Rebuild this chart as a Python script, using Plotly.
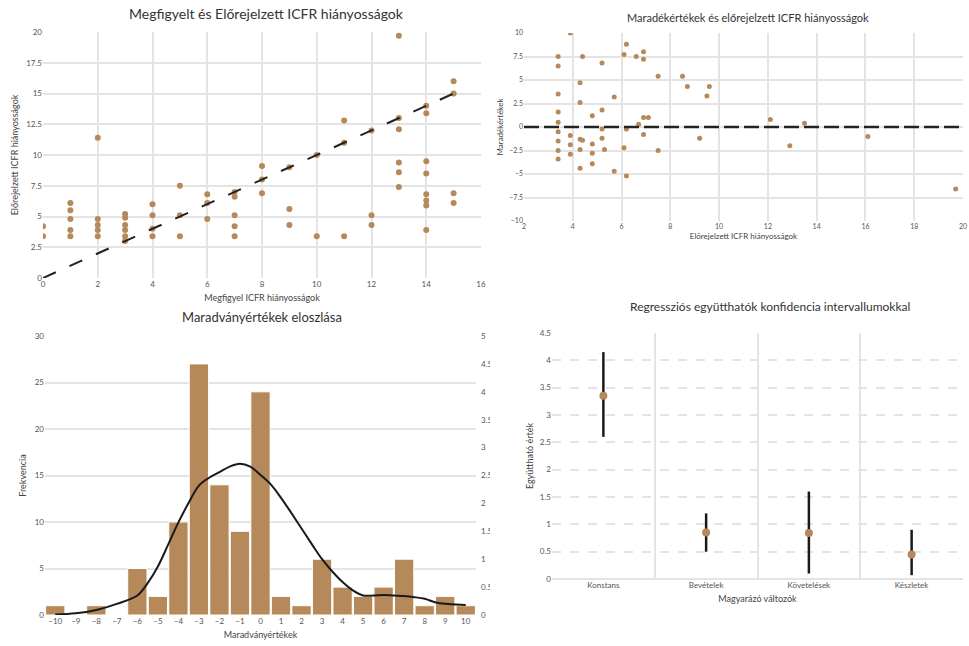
import plotly.graph_objects as go

# ---------------- data ----------------
# Panel 1: observed vs predicted
observed = [0, 0,
            1, 1, 1, 1, 1,
            2, 2, 2, 2, 2,
            3, 3, 3, 3, 3, 3,
            4, 4, 4, 4,
            5, 5, 5,
            6, 6, 6,
            7, 7, 7, 7, 7,
            8, 8, 8,
            9, 9, 9,
            10, 10,
            11, 11, 11,
            12, 12, 12,
            13, 13, 13, 13, 13, 13,
            14, 14, 14, 14, 14, 14, 14, 14,
            15, 15, 15, 15]
predicted = [4.2, 3.4,
             6.1, 5.5, 4.8, 3.9, 3.4,
             11.4, 4.8, 4.3, 3.9, 3.4,
             5.2, 4.9, 4.3, 3.9, 3.4, 3.0,
             6.0, 5.1, 4.0, 3.4,
             7.5, 5.1, 3.4,
             6.8, 6.1, 4.8,
             7.0, 6.6, 5.1, 4.2, 3.4,
             9.1, 8.0, 6.9,
             9.0, 5.6, 4.3,
             10.0, 3.4,
             12.8, 11.0, 3.4,
             12.0, 5.1, 4.3,
             19.7, 13.0, 12.1, 9.4, 8.6, 7.4,
             14.0, 13.4, 9.5, 8.5, 6.8, 6.3, 5.9, 3.9,
             16.0, 15.0, 6.9, 6.1]
ideal_x = [0, 15]
ideal_y = [0, 15]

# Panel 2: residuals vs predicted
res_pred = [3.9, 3.4, 3.4, 3.4, 3.4, 3.4, 3.4, 3.4, 3.4, 3.4,
            3.9, 3.9, 3.9,
            4.3, 4.3, 4.3, 4.4, 4.3, 4.3, 4.4,
            4.8, 4.8, 4.8, 4.8,
            5.2, 5.2, 5.2, 5.2, 5.3,
            5.7, 5.7,
            6.1, 6.1, 6.2, 6.2, 6.2,
            6.6, 6.7, 6.9, 6.9, 6.9, 7.1, 6.9,
            7.5, 7.5, 8.5, 8.7, 9.6, 9.5, 9.2,
            12.1, 12.9, 13.5, 16.1, 19.7]
residuals = [10.0, 7.5, 6.5, 3.5, 1.6, 0.5, -0.5, -1.5, -2.5, -3.4,
             -0.9, -1.9, -2.9,
             4.7, 2.6, -1.3, -1.4, -2.4, -4.4, 7.5,
             1.2, -1.8, -2.8, -3.9,
             6.8, 1.8, -0.2, -1.2, -2.4,
             3.2, -4.7,
             7.7, -2.2, 8.8, -0.2, -5.2,
             7.5, 0.3, 8.0, 7.2, 1.0, 1.0, -0.8,
             5.4, -2.5, 5.4, 4.3, 4.3, 3.3, -1.2,
             0.8, -2.0, 0.4, -1.0, -6.6]
zero_x = [2, 20]
zero_y = [0, 0]

# Panel 3: residual histogram + density
bins = list(range(-10, 11))
counts = [1, 0, 1, 0, 5, 2, 10, 27, 14, 9, 24, 2, 1, 6, 3, 2, 3, 6, 1, 2, 1]
kde_x = [-10, -9, -8, -7, -6, -5.5, -5, -4.5, -4, -3.5, -3, -2.5, -2, -1.5, -1,
         -0.5, 0, 0.5, 1, 1.5, 2, 2.5, 3, 3.5, 4, 4.5, 5, 5.5, 6, 6.5, 7,
         7.5, 8, 8.5, 9, 9.5, 10]
kde_y = [0.01, 0.03, 0.09, 0.20, 0.35, 0.57, 0.87, 1.26, 1.66, 2.01, 2.32, 2.46,
         2.56, 2.66, 2.71, 2.66, 2.51, 2.34, 2.10, 1.83, 1.55, 1.27, 1.00, 0.78,
         0.59, 0.44, 0.35, 0.35, 0.36, 0.35, 0.34, 0.32, 0.29, 0.23, 0.20, 0.19,
         0.18]

# Panel 4: regression coefficients
variables = ["Konstans", "Bevételek", "Követelések", "Készletek"]
coef = [3.35, 0.85, 0.84, 0.45]
ci_low = [2.6, 0.5, 0.1, 0.07]
ci_high = [4.15, 1.2, 1.6, 0.9]

# ---------------- style ----------------
W, H = 969, 646
BROWN = "#b5895a"
GRID = "#e4e4e4"
TICKC = "#555555"
FONT = "Lato"


def px_x(p):
    return p / W


def px_y(p):
    return 1 - p / H


fig = go.Figure()

fig.add_trace(go.Scatter(x=observed, y=predicted, mode="markers",
                         marker=dict(color=BROWN, size=6),
                         xaxis="x", yaxis="y", showlegend=False))
fig.add_trace(go.Scatter(x=ideal_x, y=ideal_y, mode="lines",
                         line=dict(color="#222222", width=2, dash="14px,15px"),
                         xaxis="x", yaxis="y", showlegend=False))

fig.add_trace(go.Scatter(x=res_pred, y=residuals, mode="markers",
                         marker=dict(color=BROWN, size=5),
                         xaxis="x2", yaxis="y2", showlegend=False))
fig.add_trace(go.Scatter(x=zero_x, y=zero_y, mode="lines",
                         line=dict(color="#222222", width=2.5, dash="15px,5px"),
                         xaxis="x2", yaxis="y2", showlegend=False))

fig.add_trace(go.Bar(x=bins, y=counts, marker=dict(color=BROWN, line=dict(color="white", width=1)),
                     xaxis="x3", yaxis="y3", showlegend=False))
fig.add_trace(go.Scatter(x=kde_x, y=kde_y, mode="lines", line=dict(color="#1a1a1a", width=2, shape="spline"),
                         xaxis="x3", yaxis="y5", showlegend=False))

fig.add_trace(go.Scatter(x=variables, y=coef, mode="markers",
                         marker=dict(color=BROWN, size=8),
                         error_y=dict(type="data", symmetric=False,
                                      array=[h - c for h, c in zip(ci_high, coef)],
                                      arrayminus=[c - l for c, l in zip(coef, ci_low)],
                                      color="#1a1a1a", thickness=2.5, width=0),
                         xaxis="x4", yaxis="y4", showlegend=False))

tickf = dict(family=FONT, size=8, color=TICKC)
tickf_small = dict(family=FONT, size=7, color=TICKC)
titf = dict(family=FONT, size=9, color="#444444")
titf_small = dict(family=FONT, size=8, color="#444444")

common = dict(showgrid=True, gridcolor=GRID, gridwidth=1.5, zeroline=False,
              showline=False, ticks="", automargin=False)

fig.update_layout(
    width=W, height=H,
    margin=dict(l=0, r=0, t=0, b=0, autoexpand=False),
    paper_bgcolor="white", plot_bgcolor="white",
    font=dict(family=FONT),
    bargap=0.06,
    xaxis=dict(domain=[px_x(43), px_x(481)], anchor="y", range=[0, 16], dtick=2,
               tickfont=tickf,
               title=dict(text="Megfigyel ICFR hiányosságok", font=titf, standoff=6), **common),
    yaxis=dict(domain=[px_y(278), px_y(32)], anchor="x", range=[0, 20], dtick=2.5,
               tickfont=tickf,
               title=dict(text="Előrejelzett ICFR hiányosságok", font=titf, standoff=6), **common),
    xaxis2=dict(domain=[px_x(524), px_x(963)], anchor="y2", range=[2, 20], dtick=2,
                tickfont=tickf_small,
                title=dict(text="Előrejelzett ICFR hiányosságok", font=titf_small, standoff=4),
                **common),
    yaxis2=dict(domain=[px_y(221), px_y(33)], anchor="x2", range=[-10, 10], dtick=2.5,
                tickfont=tickf_small,
                title=dict(text="Maradékértékek", font=titf_small, standoff=4),
                **common),
    xaxis3=dict(domain=[px_x(45), px_x(476)], anchor="y3", range=[-10.5, 10.5],
                tickmode="array", tickvals=bins, showgrid=False, zeroline=False, ticks="",
                tickfont=tickf, automargin=False,
                title=dict(text="Maradványértékek", font=titf, standoff=6)),
    yaxis3=dict(domain=[px_y(615), px_y(336)], anchor="x3", range=[0, 30], dtick=5,
                tickfont=tickf,
                title=dict(text="Frekvencia", font=titf, standoff=6), **common),
    yaxis5=dict(overlaying="y3", anchor="x3", side="right", range=[0, 5], dtick=0.5,
                showgrid=False, zeroline=False, ticks="", tickfont=tickf, automargin=False,
                ticklabelstandoff=4),
    xaxis4=dict(domain=[px_x(552), px_x(963)], anchor="y4", type="category",
                tickson="boundaries", range=[-0.5, 3.5], showgrid=True, gridcolor=GRID,
                gridwidth=1.5, ticks="", tickfont=tickf, showline=False, automargin=False,
                title=dict(text="Magyarázó változók", font=titf, standoff=6)),
    yaxis4=dict(domain=[px_y(579), px_y(333)], anchor="x4", range=[0, 4.5], dtick=0.5,
                showgrid=True, gridcolor=GRID, gridwidth=1.5, griddash="dash",
                zeroline=True, zerolinecolor=GRID, zerolinewidth=1.5,
                ticks="", tickfont=tickf, automargin=False,
                title=dict(text="Együttható érték", font=titf, standoff=4)),
)

titles = [
    ("Megfigyelt és Előrejelzett ICFR hiányosságok", 266, 13, 14),
    ("Maradékértékek és előrejelzett ICFR hiányosságok", 748, 18, 11),
    ("Maradványértékek eloszlása", 262, 317, 13),
    ("Regressziós együtthatók konfidencia intervallumokkal", 770, 307, 12),
]
for text, cx, cy, sz in titles:
    fig.add_annotation(text=text, x=px_x(cx), y=px_y(cy), xref="paper", yref="paper",
                       showarrow=False, xanchor="center", yanchor="middle",
                       font=dict(family=FONT, size=sz, color="#333333"))

# clip the right-axis labels of the histogram panel at the panel edge
fig.add_shape(type="rect", xref="paper", yref="paper", x0=px_x(490), x1=px_x(499),
              y0=0, y1=px_y(320), fillcolor="white", line=dict(width=0), layer="above")

fig.write_html("out.html",
               config={"displayModeBar": False},
               post_script="document.body.style.margin='0';document.body.style.overflow='hidden';")
